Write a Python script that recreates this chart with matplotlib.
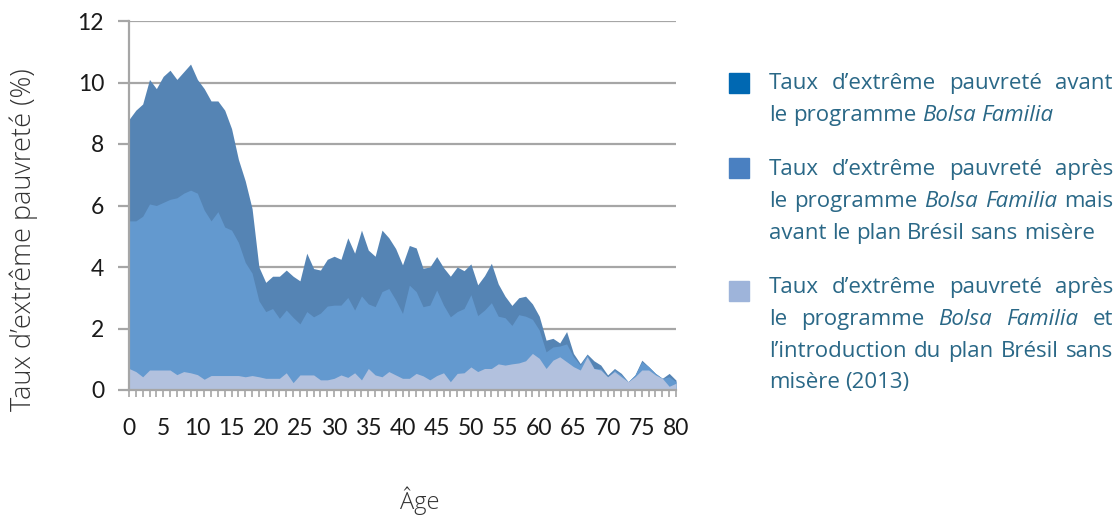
"""Extreme poverty rate by age, Bolsa Familia / Brasil sem Miséria (area chart)."""

import matplotlib
matplotlib.use("Agg")
import matplotlib.pyplot as plt
import numpy as np

W, H = 1117, 515

ages = np.arange(81)

# Taux avant le programme Bolsa Familia
avant_bf = [8.8, 9.1, 9.3, 10.1, 9.8, 10.2, 10.4, 10.1, 10.35, 10.6,
            10.1, 9.8, 9.4, 9.4, 9.1, 8.5, 7.5, 6.8, 5.9, 4.0,
            3.5, 3.7, 3.7, 3.9, 3.7, 3.55, 4.45, 3.95, 3.9, 4.25,
            4.35, 4.25, 4.95, 4.45, 5.2, 4.55, 4.35, 5.2, 4.95, 4.6,
            4.07, 4.7, 4.62, 3.96, 4.0, 4.34, 3.98, 3.7, 4.0, 3.88,
            4.1, 3.42, 3.72, 4.12, 3.45, 3.05, 2.75, 3.0, 3.05, 2.8,
            2.4, 1.62, 1.68, 1.53, 1.9, 1.19, 0.86, 1.17, 0.95, 0.81,
            0.49, 0.7, 0.54, 0.27, 0.49, 0.97, 0.76, 0.54, 0.38, 0.54,
            0.32]

# Taux après Bolsa Familia, avant Brésil sans misère
apres_bf = [5.5, 5.5, 5.65, 6.05, 6.0, 6.1, 6.2, 6.25, 6.4, 6.5,
            6.4, 5.85, 5.5, 5.8, 5.3, 5.2, 4.8, 4.15, 3.8, 2.9,
            2.55, 2.65, 2.33, 2.6, 2.36, 2.15, 2.55, 2.38, 2.5, 2.73,
            2.76, 2.76, 3.01, 2.6, 3.06, 2.8, 2.71, 3.2, 3.3, 2.93,
            2.49, 3.41, 3.2, 2.71, 2.76, 3.25, 2.76, 2.38, 2.55, 2.65,
            3.1, 2.42, 2.6, 2.84, 2.4, 2.35, 2.1, 2.45, 2.4, 2.3,
            1.95, 1.24, 1.4, 1.43, 1.5, 1.08, 0.81, 1.14, 0.7, 0.7,
            0.43, 0.65, 0.49, 0.27, 0.49, 0.92, 0.76, 0.54, 0.38, 0.43,
            0.27]

# Taux après Bolsa Familia et Brésil sans misère (2013)
apres_bsm = [0.7, 0.6, 0.43, 0.65, 0.65, 0.65, 0.65, 0.5, 0.6, 0.56,
             0.5, 0.35, 0.47, 0.47, 0.47, 0.47, 0.47, 0.43, 0.47, 0.43,
             0.38, 0.38, 0.38, 0.56, 0.24, 0.49, 0.49, 0.49, 0.33, 0.33,
             0.38, 0.49, 0.41, 0.56, 0.33, 0.7, 0.49, 0.43, 0.6, 0.49,
             0.38, 0.38, 0.54, 0.46, 0.33, 0.47, 0.56, 0.27, 0.54, 0.56,
             0.75, 0.6, 0.7, 0.7, 0.85, 0.81, 0.85, 0.88, 0.95, 1.19,
             1.03, 0.7, 0.97, 1.08, 0.92, 0.76, 0.65, 1.08, 0.7, 0.65,
             0.43, 0.6, 0.43, 0.27, 0.43, 0.65, 0.65, 0.49, 0.38, 0.12,
             0.22]

area_colors = ["#5584b4", "#6399cf", "#b2c1de"]
legend_colors = ["#0068b2", "#4a80c1", "#9eb4da"]
grid_color = "#a6a6a6"
text_color = "#2a6887"

fig = plt.figure(figsize=(W / 100, H / 100), dpi=100)
ax = fig.add_axes([129 / W, 1 - 390 / H, (676 - 129) / W, (390 - 21) / H])

for vals, c in zip((avant_bf, apres_bf, apres_bsm), area_colors):
    ax.fill_between(ages, 0, vals, color=c, lw=0)

ax.set_xlim(0, 80)
ax.set_ylim(0, 12)
ax.set_axisbelow(True)
ax.set_yticks(range(0, 13, 2))
ax.set_xticks(range(0, 81, 5))
ax.set_xticks(range(81), minor=True)
ax.yaxis.grid(True, color=grid_color, lw=1.6)
for s in ("top", "right"):
    ax.spines[s].set_visible(False)
for s in ("left", "bottom"):
    ax.spines[s].set_color(grid_color)
    ax.spines[s].set_linewidth(1.6)
ax.tick_params(axis="y", length=8, width=1.6, color=grid_color, pad=10,
               labelsize=16.5, labelcolor="#1a1a1a")
ax.tick_params(axis="x", which="both", length=5, width=1.2, color=grid_color,
               pad=15, labelsize=16.5, labelcolor="#1a1a1a")
for lab in ax.get_xticklabels() + ax.get_yticklabels():
    lab.set_family("Lato")

fig.text(24 / W, 1 - 240 / H, "Taux d\u2019extrême pauvreté (%)", rotation=90,
         ha="center", va="center", fontsize=19.5, color="#333333",
         family="Open Sans", fontweight="light")
fig.text(420 / W, 1 - 509 / H, "Âge", ha="center", va="baseline",
         fontsize=17, color="#333333", family="Open Sans", fontweight="light")

# Legend: coloured squares and justified text blocks.
legend_blocks = [
    [[("Taux", 0), ("d\u2019extrême", 0), ("pauvreté", 0), ("avant", 0)],
     [("le", 0), ("programme", 0), ("Bolsa", 1), ("Familia", 1)]],
    [[("Taux", 0), ("d\u2019extrême", 0), ("pauvreté", 0), ("après", 0)],
     [("le", 0), ("programme", 0), ("Bolsa", 1), ("Familia", 1), ("mais", 0)],
     [("avant", 0), ("le", 0), ("plan", 0), ("Brésil", 0), ("sans", 0), ("misère", 0)]],
    [[("Taux", 0), ("d\u2019extrême", 0), ("pauvreté", 0), ("après", 0)],
     [("le", 0), ("programme", 0), ("Bolsa", 1), ("Familia", 1), ("et", 0)],
     [("l\u2019introduction", 0), ("du", 0), ("plan", 0), ("Brésil", 0), ("sans", 0)],
     [("misère", 0), ("(2013)", 0)]],
]
square_y = [83, 168, 291]
first_baseline = [89, 175, 293]
line_step = 31.8
text_x0, text_x1 = 769, 1113
fs = 16

renderer = fig.canvas.get_renderer()


def width_px(s, italic):
    t = fig.text(0, 0, s, fontsize=fs, family="Open Sans",
                 style="italic" if italic else "normal")
    w = t.get_window_extent(renderer).width
    t.remove()
    return w


space_w = width_px("x x", 0) - width_px("xx", 0)

for bi, block in enumerate(legend_blocks):
    fig.patches.append(plt.Rectangle((729 / W, 1 - (square_y[bi] + 10) / H),
                                     20 / W, 20 / H, color=legend_colors[bi],
                                     transform=fig.transFigure))
    for li, words in enumerate(block):
        y = first_baseline[bi] + li * line_step
        widths = [width_px(w, it) for w, it in words]
        last = li == len(block) - 1
        if last:
            gap = space_w
        else:
            gap = (text_x1 - text_x0 - sum(widths)) / (len(words) - 1)
        x = text_x0
        for (w, it), wd in zip(words, widths):
            fig.text(x / W, 1 - y / H, w, fontsize=fs, family="Open Sans",
                     style="italic" if it else "normal", color=text_color,
                     ha="left", va="baseline")
            x += wd + gap

fig.savefig("out.png", dpi=100)
